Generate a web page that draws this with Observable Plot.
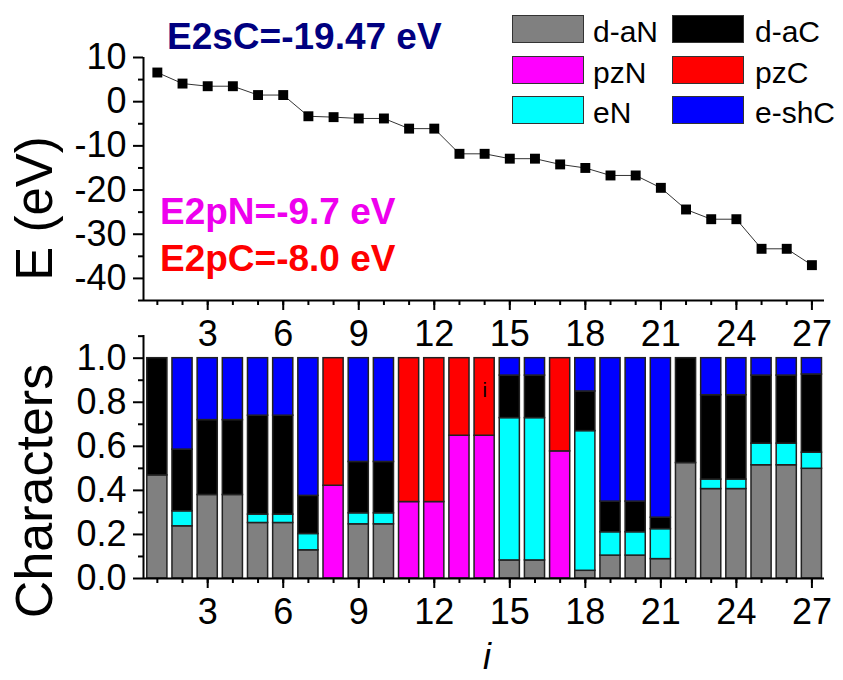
<!DOCTYPE html>
<html><head><meta charset="utf-8">
<script src="https://cdn.jsdelivr.net/npm/d3@7"></script>
<script src="https://cdn.jsdelivr.net/npm/@observablehq/plot@0.6"></script>
<style>
html,body{margin:0;padding:0;background:#fff;overflow:hidden}
#root{position:relative;width:843px;height:680px;overflow:hidden;font-family:"Liberation Sans",Arial,sans-serif;color:#000}
#root svg{position:absolute;left:0;overflow:visible}
.ann{position:absolute;white-space:nowrap;font-weight:bold;font-size:37px;line-height:37px}
.lg{position:absolute;white-space:nowrap;font-size:30px;line-height:30px}
.sw{position:absolute;box-sizing:border-box;border:1.5px solid #333}
.ttl{position:absolute;white-space:nowrap;text-align:center;transform:rotate(-90deg);transform-origin:50% 50%}
</style></head><body><div id="root"></div>
<script>
// ---------- data ----------
const levels = [1,2,3,4,5,6,7,8,9,10,11,12,13,14,15,16,17,18,19,20,21,22,23,24,25,26,27];
const energy = [6.6,4.1,3.5,3.5,1.5,1.5,-3.3,-3.5,-3.8,-3.8,-6.1,-6.1,-11.8,-11.8,-12.9,-12.9,-14.2,-15.0,-16.7,-16.7,-19.5,-24.4,-26.6,-26.6,-33.3,-33.3,-37.0];

const components = ["d-aN","pzN","eN","d-aC","pzC","e-shC"];
const compColors = ["#808080","#FF00FF","#00FFFF","#000000","#FF0000","#0000FF"];
const dAN  = [0.468,0.237,0.379,0.379,0.252,0.252,0.128,0,0.246,0.246,0,0,0,0,0.082,0.082,0,0.035,0.104,0.104,0.088,0.524,0.406,0.406,0.514,0.514,0.498];
const pzN  = [0,0,0,0,0,0,0,0.421,0,0,0.347,0.347,0.648,0.648,0,0,0.577,0,0,0,0,0,0,0,0,0,0];
const eN   = [0,0.068,0,0,0.038,0.038,0.074,0,0.05,0.05,0,0,0,0,0.646,0.646,0,0.634,0.106,0.106,0.136,0,0.043,0.043,0.098,0.098,0.073];
const dAC  = [0.532,0.28,0.34,0.34,0.449,0.449,0.173,0,0.233,0.233,0,0,0,0,0.193,0.193,0,0.18,0.139,0.139,0.052,0.476,0.383,0.383,0.309,0.309,0.355];
const pzC  = [0,0,0,0,0,0,0,0.579,0,0,0.653,0.653,0.352,0.352,0,0,0.423,0,0,0,0,0,0,0,0,0,0];
const eshC = [0,0.415,0.281,0.281,0.261,0.261,0.625,0,0.471,0.471,0,0,0,0,0.079,0.079,0,0.151,0.651,0.651,0.724,0,0.168,0.168,0.079,0.079,0.074];
const series = [dAN, pzN, eN, dAC, pzC, eshC];

const xTicks = [3,6,9,12,15,18,21,24,27];
const eTicks = [-40,-30,-20,-10,0,10];
const eMinor = [-45,-35,-25,-15,-5,5];
const cTicks = [0,0.2,0.4,0.6,0.8,1.0];
const cMinor = [0.1,0.3,0.5,0.7,0.9,1.1];

const annotations = [
  {text:"E2sC=-19.47 eV", color:"#000080"},
  {text:"E2pN=-9.7 eV", color:"#EE00EE"},
  {text:"E2pC=-8.0 eV", color:"#FF0000"}
];
const legendRows = [["d-aN","d-aC"],["pzN","pzC"],["eN","e-shC"]];
const stray = {label:"i", level:14, value:0.823};
const yTitles = ["E (eV)", "Characters"];
const xTitle = "i";

// ---------- tables ----------
const points = levels.map((lv,k)=>({i:lv, E:energy[k]}));
const tidy = [];
levels.forEach((lv,k)=>{
  let cum = 0;
  components.forEach((c,j)=>{
    const v = series[j][k];
    if (v > 0) tidy.push({i:lv, comp:c, y1:cum, y2:cum+v});
    cum += v;
  });
});

const FONT = '"Liberation Sans", Arial, sans-serif';
const root = document.getElementById("root");
const xDom = [0.45, 27.5];

// ---------- top panel ----------
const topPlot = Plot.plot({
  width: 843, height: 360,
  marginLeft: 143, marginRight: 19, marginTop: 57, marginBottom: 60,
  style: {fontFamily: FONT, fontSize: "36px", background: "transparent", overflow: "visible", color: "#000"},
  x: {domain: xDom},
  y: {domain: [-45, 10]},
  marks: [
    Plot.axisY({ticks: eMinor, tickSize: 5, tickFormat: () => "", strokeWidth: 2, label: null}),
    Plot.axisY({ticks: eTicks, tickSize: 10, tickPadding: 7, tickFormat: d => String(d), strokeWidth: 2, fontSize: 36, label: null}),
    Plot.axisX({ticks: levels, tickSize: 5, tickFormat: () => "", strokeWidth: 2, label: null}),
    Plot.axisX({ticks: xTicks, tickSize: 10, tickPadding: 10, tickFormat: d => String(d), strokeWidth: 2, fontSize: 36, label: null}),
    Plot.ruleX([xDom[0]], {stroke: "#000", strokeWidth: 2}),
    Plot.ruleY([-45], {stroke: "#000", strokeWidth: 2}),
    Plot.line(points, {x: "i", y: "E", stroke: "#333", strokeWidth: 1}),
    Plot.dot(points, {x: "i", y: "E", symbol: "square", r: 5.6, fill: "#000", stroke: "none"})
  ]
});
topPlot.style.top = "0px";
root.appendChild(topPlot);

// ---------- bottom panel ----------
const botPlot = Plot.plot({
  width: 843, height: 360,
  marginLeft: 143, marginRight: 19, marginTop: 15, marginBottom: 102,
  style: {fontFamily: FONT, fontSize: "36px", background: "transparent", overflow: "visible", color: "#000"},
  x: {domain: xDom},
  y: {domain: [0, 1.103]},
  color: {domain: components, range: compColors},
  marks: [
    Plot.rect(tidy, {x1: d => d.i - 0.4, x2: d => d.i + 0.4, y1: "y1", y2: "y2", fill: "comp", stroke: "#222", strokeWidth: 1.5}),
    Plot.text([stray], {x: "level", y: "value", text: "label", fontSize: 20, lineAnchor: "bottom", fill: "#000"}),
    Plot.axisY({ticks: cMinor, tickSize: 5, tickFormat: () => "", strokeWidth: 2, label: null}),
    Plot.axisY({ticks: cTicks, tickSize: 10, tickPadding: 7, tickFormat: d => d.toFixed(1), strokeWidth: 2, fontSize: 36, label: null}),
    Plot.axisX({ticks: levels, tickSize: 5, tickFormat: () => "", strokeWidth: 2, label: null}),
    Plot.axisX({ticks: xTicks, tickSize: 10, tickPadding: 10, tickFormat: d => String(d), strokeWidth: 2, fontSize: 36, label: null}),
    Plot.ruleX([xDom[0]], {stroke: "#000", strokeWidth: 2}),
    Plot.ruleY([0], {stroke: "#000", strokeWidth: 2})
  ]
});
botPlot.style.top = "320px";
root.appendChild(botPlot);

// ---------- axis titles ----------
const ttlSpec = [{cx: 34, cy: 208, fs: 51}, {cx: 34, cy: 491, fs: 52}];
yTitles.forEach((t,k)=>{
  const s = ttlSpec[k], w = 320;
  const d = document.createElement("div");
  d.className = "ttl";
  d.textContent = t;
  d.style.fontSize = s.fs + "px";
  d.style.lineHeight = s.fs + "px";
  d.style.width = w + "px";
  d.style.left = (s.cx - w/2) + "px";
  d.style.top = (s.cy - s.fs/2) + "px";
  root.appendChild(d);
});
const xt = document.createElement("div");
xt.style.cssText = "position:absolute;left:437px;width:100px;text-align:center;top:638px;font-size:36px;line-height:38px;font-style:italic";
xt.textContent = xTitle;
root.appendChild(xt);

// ---------- annotations ----------
const annPos = [{left:167, top:18}, {left:160, top:193}, {left:160, top:240}];
annotations.forEach((a,k)=>{
  const d = document.createElement("div");
  d.className = "ann";
  d.textContent = a.text;
  d.style.color = a.color;
  d.style.left = annPos[k].left + "px";
  d.style.top = annPos[k].top + "px";
  root.appendChild(d);
});

// ---------- legend ----------
const rowTop = [15, 56, 96];
const swLeft = [512, 672], txLeft = [593, 755];
legendRows.forEach((row,r)=>{
  row.forEach((name,c)=>{
    const sw = document.createElement("div");
    sw.className = "sw";
    sw.style.left = swLeft[c] + "px";
    sw.style.top = rowTop[r] + "px";
    sw.style.width = "72px"; sw.style.height = "28px";
    sw.style.background = compColors[components.indexOf(name)];
    root.appendChild(sw);
    const t = document.createElement("div");
    t.className = "lg";
    t.textContent = name;
    t.style.left = txLeft[c] + "px";
    t.style.top = (rowTop[r] + 27 - 25.4) + "px";
    root.appendChild(t);
  });
});
</script></body></html>
